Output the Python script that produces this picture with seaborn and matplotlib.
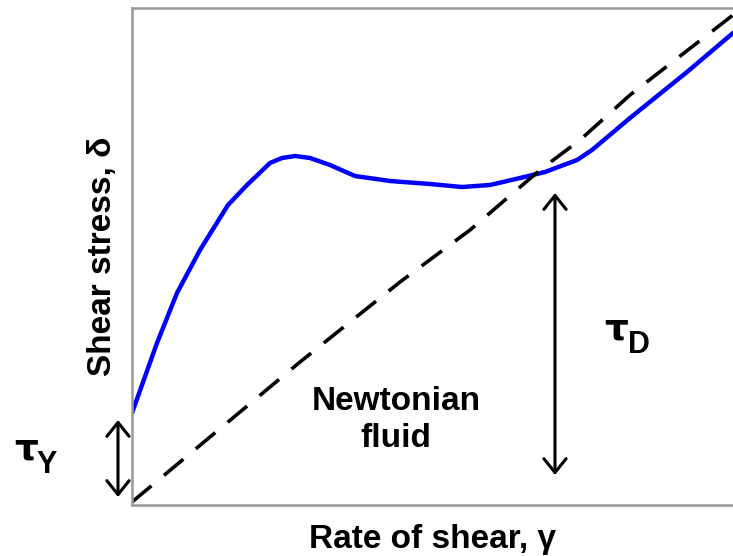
import matplotlib
matplotlib.use("Agg")
import matplotlib.pyplot as plt
import seaborn as sns
import pandas as pd

# Data (x: rate of shear, y: shear stress)
curve_x = [0, 25, 45, 68, 96, 115, 138, 150, 163, 178, 198, 223, 258, 298, 330, 358, 388, 413, 445, 460, 498, 555, 601]
curve_y = [92, 162, 212, 255, 300, 320, 342, 347, 349, 347, 340, 329, 324, 321, 318, 320, 327, 333, 345, 355, 387, 433, 472]
newton_x = [0, 108, 168, 268, 338, 408, 448, 498, 601]
newton_y = [3, 93, 143, 223, 275, 335, 365, 410, 490]

sns.set_style("white")
plt.rcParams['font.family'] = ['Liberation Sans', 'DejaVu Sans']
plt.rcParams['text.color'] = 'black'
plt.rcParams['axes.labelcolor'] = 'black'

fig = plt.figure(figsize=(7.33, 5.56), dpi=100)
ax = fig.add_axes([132/733, 1-505/556, 1-132/733, (505-8)/556])

df_c = pd.DataFrame({"x": curve_x, "y": curve_y})
df_n = pd.DataFrame({"x": newton_x, "y": newton_y})
sns.lineplot(data=df_c, x="x", y="y", ax=ax, color="#0000ff", lw=3.2, sort=False)
sns.lineplot(data=df_n, x="x", y="y", ax=ax, color="black", lw=2.6, sort=False,
             dashes=False)
ax.lines[-1].set_dashes([7, 4.5])

ax.set_xlim(0, 601)
ax.set_ylim(0, 497)
ax.set_xticks([])
ax.set_yticks([])
for s in ["left", "bottom", "top"]:
    ax.spines[s].set_color("#999999")
    ax.spines[s].set_linewidth(1.8)
ax.spines["right"].set_visible(False)

ax.set_xlabel("Rate of shear, γ", fontsize=24, fontweight="bold", labelpad=14, color="black")
ax.set_ylabel("Shear stress, δ", fontsize=24, fontweight="bold", labelpad=10, color="black")

arrow_kw = dict(arrowstyle="<->,head_length=0.5,head_width=0.4", lw=2.2, color="black",
                shrinkA=0, shrinkB=0, mutation_scale=20)
ax.annotate("", xy=(-14, 85), xytext=(-14, 8), arrowprops=arrow_kw, annotation_clip=False)
ax.annotate("", xy=(423, 312), xytext=(423, 30), arrowprops=arrow_kw, annotation_clip=False)

tau_font = ['DejaVu Sans']
ax.text(-118, 45, "τ", fontsize=27, fontweight="bold", family=tau_font, ha="left", va="baseline", clip_on=False)
ax.text(-96, 32, "Y", fontsize=22, fontweight="bold", ha="left", va="baseline", clip_on=False)
ax.text(472, 165, "τ", fontsize=27, fontweight="bold", family=tau_font, ha="left", va="baseline", clip_on=False)
ax.text(496, 152, "D", fontsize=22, fontweight="bold", ha="left", va="baseline", clip_on=False)

ax.text(264, 85, "Newtonian\nfluid", fontsize=24, fontweight="bold", ha="center", va="center",
        linespacing=1.25)

fig.savefig("out.png", dpi=100)
